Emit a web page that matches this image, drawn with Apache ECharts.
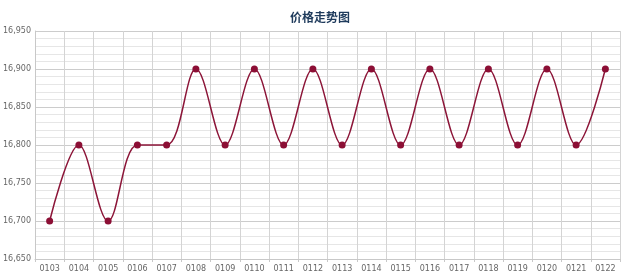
<!DOCTYPE html>
<html><head><meta charset="utf-8">
<script src="https://cdn.jsdelivr.net/npm/echarts@6/dist/echarts.min.js"></script>
<style>html,body{margin:0;padding:0;background:#fff}#c{width:640px;height:275px}</style>
</head><body><div id="c"></div>
<script>
var categories = ['0103','0104','0105','0106','0107','0108','0109','0110','0111','0112','0113','0114','0115','0116','0117','0118','0119','0120','0121','0122'];
var prices = [16700,16800,16700,16800,16800,16900,16800,16900,16800,16900,16800,16900,16800,16900,16800,16900,16800,16900,16800,16900];
var chart = echarts.init(document.getElementById('c'));
chart.setOption({
  animation: false,
  title: {text: '价格走势图', left: 'center', top: 6, textStyle: {fontSize: 12, fontWeight: 'bold', color: '#1f3b5c', fontFamily: 'Noto Sans CJK SC'}},
  grid: {left: 35, right: 20, top: 31, bottom: 16},
  xAxis: {
    type: 'category', data: categories, boundaryGap: true,
    axisLine: {lineStyle: {color: '#c8c8c8'}},
    axisTick: {show: true, interval: 0, lineStyle: {color: '#c8c8c8'}, length: 3},
    axisLabel: {interval: 0, color: '#666', fontSize: 8, margin: 6, fontFamily: 'DejaVu Sans'},
    splitLine: {show: true, interval: 0, lineStyle: {color: '#d4d4d4'}}
  },
  yAxis: {
    type: 'value', min: 16650, max: 16950, interval: 50,
    axisLine: {show: true, lineStyle: {color: '#c8c8c8'}},
    axisTick: {show: false},
    axisLabel: {color: '#666', fontSize: 8, margin: 4, fontFamily: 'DejaVu Sans', formatter: function(v){return Math.floor(v/1000)+','+String(v%1000).padStart(3,'0');}},
    splitLine: {lineStyle: {color: '#cccccc'}},
    minorTick: {show: false, splitNumber: 5},
    minorSplitLine: {show: true, lineStyle: {color: '#e6e6e6'}}
  },
  series: [{
    type: 'line', data: prices, smooth: 0.35,
    symbol: 'circle', symbolSize: 7,
    lineStyle: {color: '#8c1538', width: 1.5},
    itemStyle: {color: '#8c0f35'}
  }]
});
</script></body></html>
